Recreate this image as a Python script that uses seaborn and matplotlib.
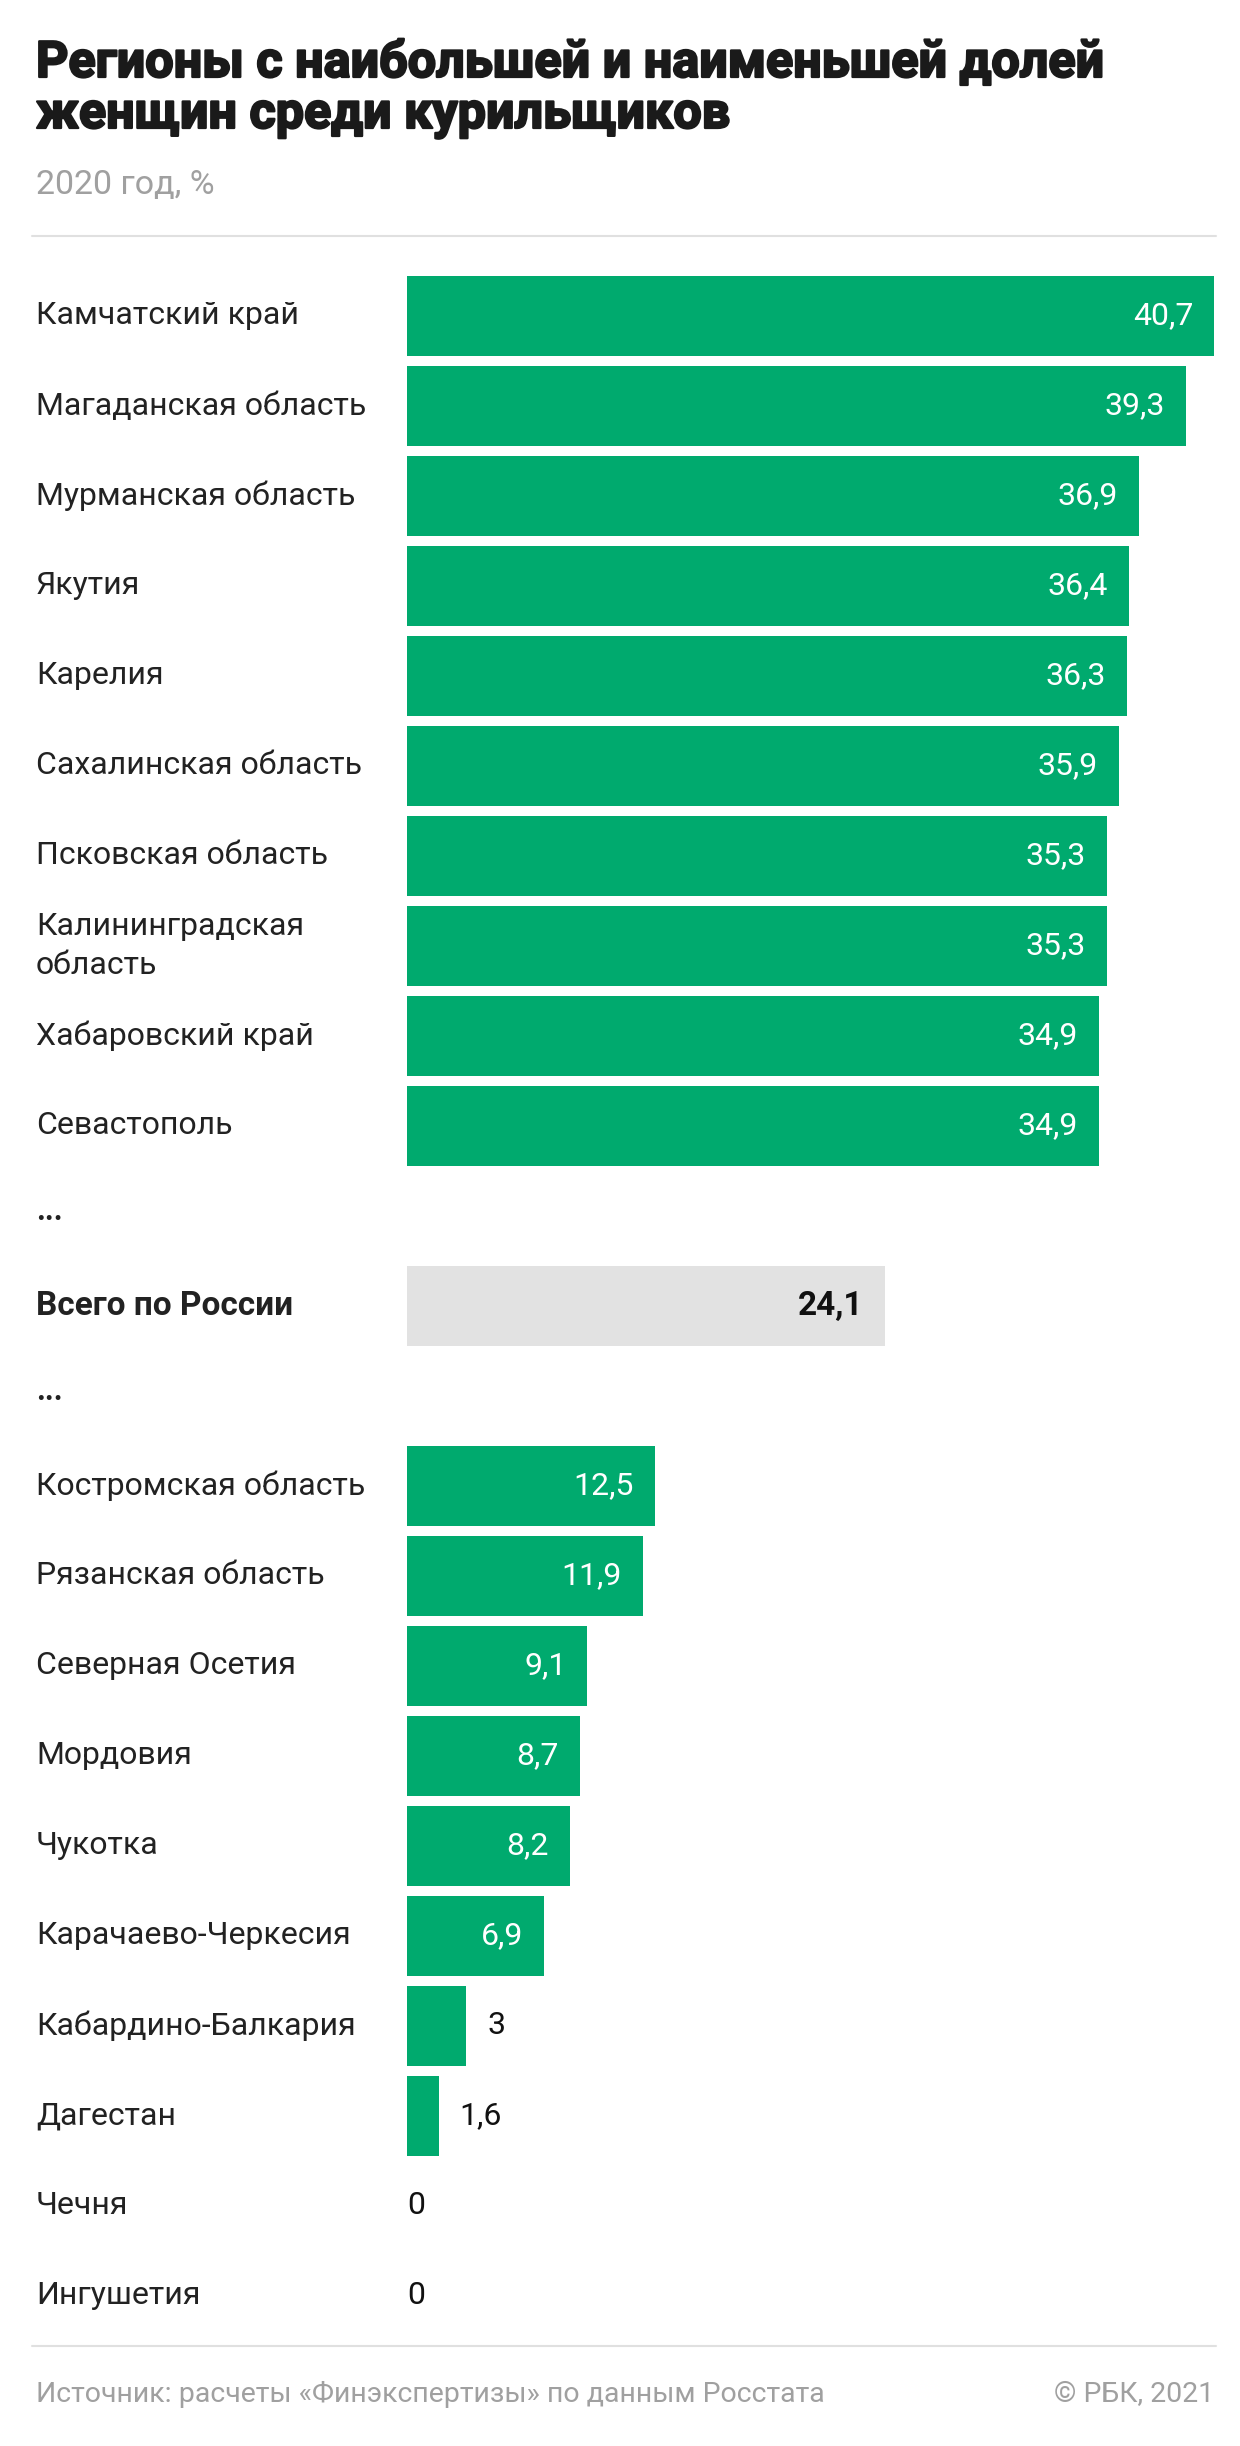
import matplotlib
matplotlib.use("Agg")
import matplotlib.pyplot as plt
import matplotlib.transforms as mtransforms
import matplotlib.patheffects as pe
import seaborn as sns
import pandas as pd
import numpy as np

# ---------------- data ----------------
top_regions = ["Камчатский край", "Магаданская область", "Мурманская область", "Якутия",
               "Карелия", "Сахалинская область", "Псковская область",
               "Калининградская\nобласть", "Хабаровский край", "Севастополь"]
top_values = [40.7, 39.3, 36.9, 36.4, 36.3, 35.9, 35.3, 35.3, 34.9, 34.9]

total_label = "Всего по России"
total_value = 24.1

bottom_regions = ["Костромская область", "Рязанская область", "Северная Осетия", "Мордовия",
                  "Чукотка", "Карачаево-Черкесия", "Кабардино-Балкария", "Дагестан",
                  "Чечня", "Ингушетия"]
bottom_values = [12.5, 11.9, 9.1, 8.7, 8.2, 6.9, 3.0, 1.6, 0.0, 0.0]

title_lines = ["Регионы с наибольшей и наименьшей долей", "женщин среди курильщиков"]
subtitle = "2020 год, %"
source = "Источник: расчеты «Финэкспертизы» по данным Росстата"
credit = "© РБК, 2021"

# ---------------- table ----------------
labels = top_regions + ["...", total_label, "..."] + bottom_regions
values = top_values + [np.nan, total_value, np.nan] + bottom_values
groups = (["region"] * len(top_regions) + ["gap", "total", "gap"]
          + ["region"] * len(bottom_regions))
df = pd.DataFrame({"label": labels, "value": values, "group": groups,
                   "pos": np.arange(len(labels))})
bars = df[df["group"] != "gap"]

GREEN = "#00AA6E"
GREY = "#E2E2E2"

sns.set_theme(style="white")
plt.rcParams["font.family"] = ["Roboto", "DejaVu Sans"]

W, H = 1240, 2446
fig = plt.figure(figsize=(W / 100, H / 100), dpi=100)
fig.patch.set_facecolor("white")

n = len(labels)
pitch = 90
first_center = 316
top_px = first_center - pitch / 2
bot_px = first_center + (n - 1) * pitch + pitch / 2
x0_px, x1_px = 407, 1214
ax = fig.add_axes([x0_px / W, 1 - bot_px / H, (x1_px - x0_px) / W, (bot_px - top_px) / H])

sns.barplot(data=bars, x="value", y="pos", hue="group", orient="h", native_scale=True,
            palette={"region": GREEN, "total": GREY}, width=0.89, legend=False,
            saturation=1, ax=ax, linewidth=0)

ax.set_xlim(0, max(top_values))
ax.set_ylim(n - 0.5, -0.5)
ax.axis("off")

LBL = 23
# category labels
trans = mtransforms.blended_transform_factory(fig.transFigure, ax.transData)
for _, r in df.iterrows():
    if r["group"] == "gap":
        ax.text(36 / W, r["pos"] - 0.05, r["label"], transform=trans, ha="left", va="center",
                fontsize=22, fontweight="bold", color="#222222")
    elif r["group"] == "total":
        ax.text(36 / W, r["pos"], r["label"], transform=trans, ha="left", va="center",
                fontsize=24, fontweight="bold", color="#222222")
    else:
        ax.text(36 / W, r["pos"], r["label"], transform=trans, ha="left", va="center",
                fontsize=LBL, color="#222222", linespacing=1.4)

# value labels
px_per_unit = (x1_px - x0_px) / max(top_values)
pad = 21 / px_per_unit
for _, r in bars.iterrows():
    v = r["value"]
    txt = ("%g" % v).replace(".", ",") if v != int(v) else str(int(v))
    if r["group"] == "total":
        ax.text(v - pad, r["pos"], txt, ha="right", va="center", fontsize=24,
                fontweight="bold", color="#111111")
    elif v == 0:
        ax.text(0, r["pos"], txt, ha="left", va="center", fontsize=LBL, color="#111111")
    elif v < 5:
        ax.text(v + pad, r["pos"], txt, ha="left", va="center", fontsize=LBL, color="#111111")
    else:
        ax.text(v - pad, r["pos"], txt, ha="right", va="center", fontsize=LBL, color="white")

# title / subtitle / separators / footer
stroke = [pe.withStroke(linewidth=1.6, foreground="#1a1a1a")]
for i, line in enumerate(title_lines):
    fig.text(36 / W, 1 - (77 + 51 * i) / H, line, ha="left", va="baseline", fontsize=36.2,
             fontweight="bold", color="#1a1a1a", path_effects=stroke)
fig.text(36 / W, 1 - 185 / H, subtitle, ha="left", va="center", fontsize=24.5, color="#A0A0A0")
fig.add_artist(plt.Line2D([32 / W, 1216 / W], [1 - 236 / H, 1 - 236 / H], color="#E0E0E0", lw=1.5))
fig.add_artist(plt.Line2D([32 / W, 1216 / W], [1 - 2346 / H, 1 - 2346 / H], color="#E0E0E0", lw=1.5))
fig.text(36 / W, 1 - 2395 / H, source, ha="left", va="center", fontsize=20.5, color="#A0A0A0")
fig.text(1214 / W, 1 - 2395 / H, credit, ha="right", va="center", fontsize=20.5, color="#A0A0A0")

fig.savefig("out.png", dpi=100, facecolor="white")
